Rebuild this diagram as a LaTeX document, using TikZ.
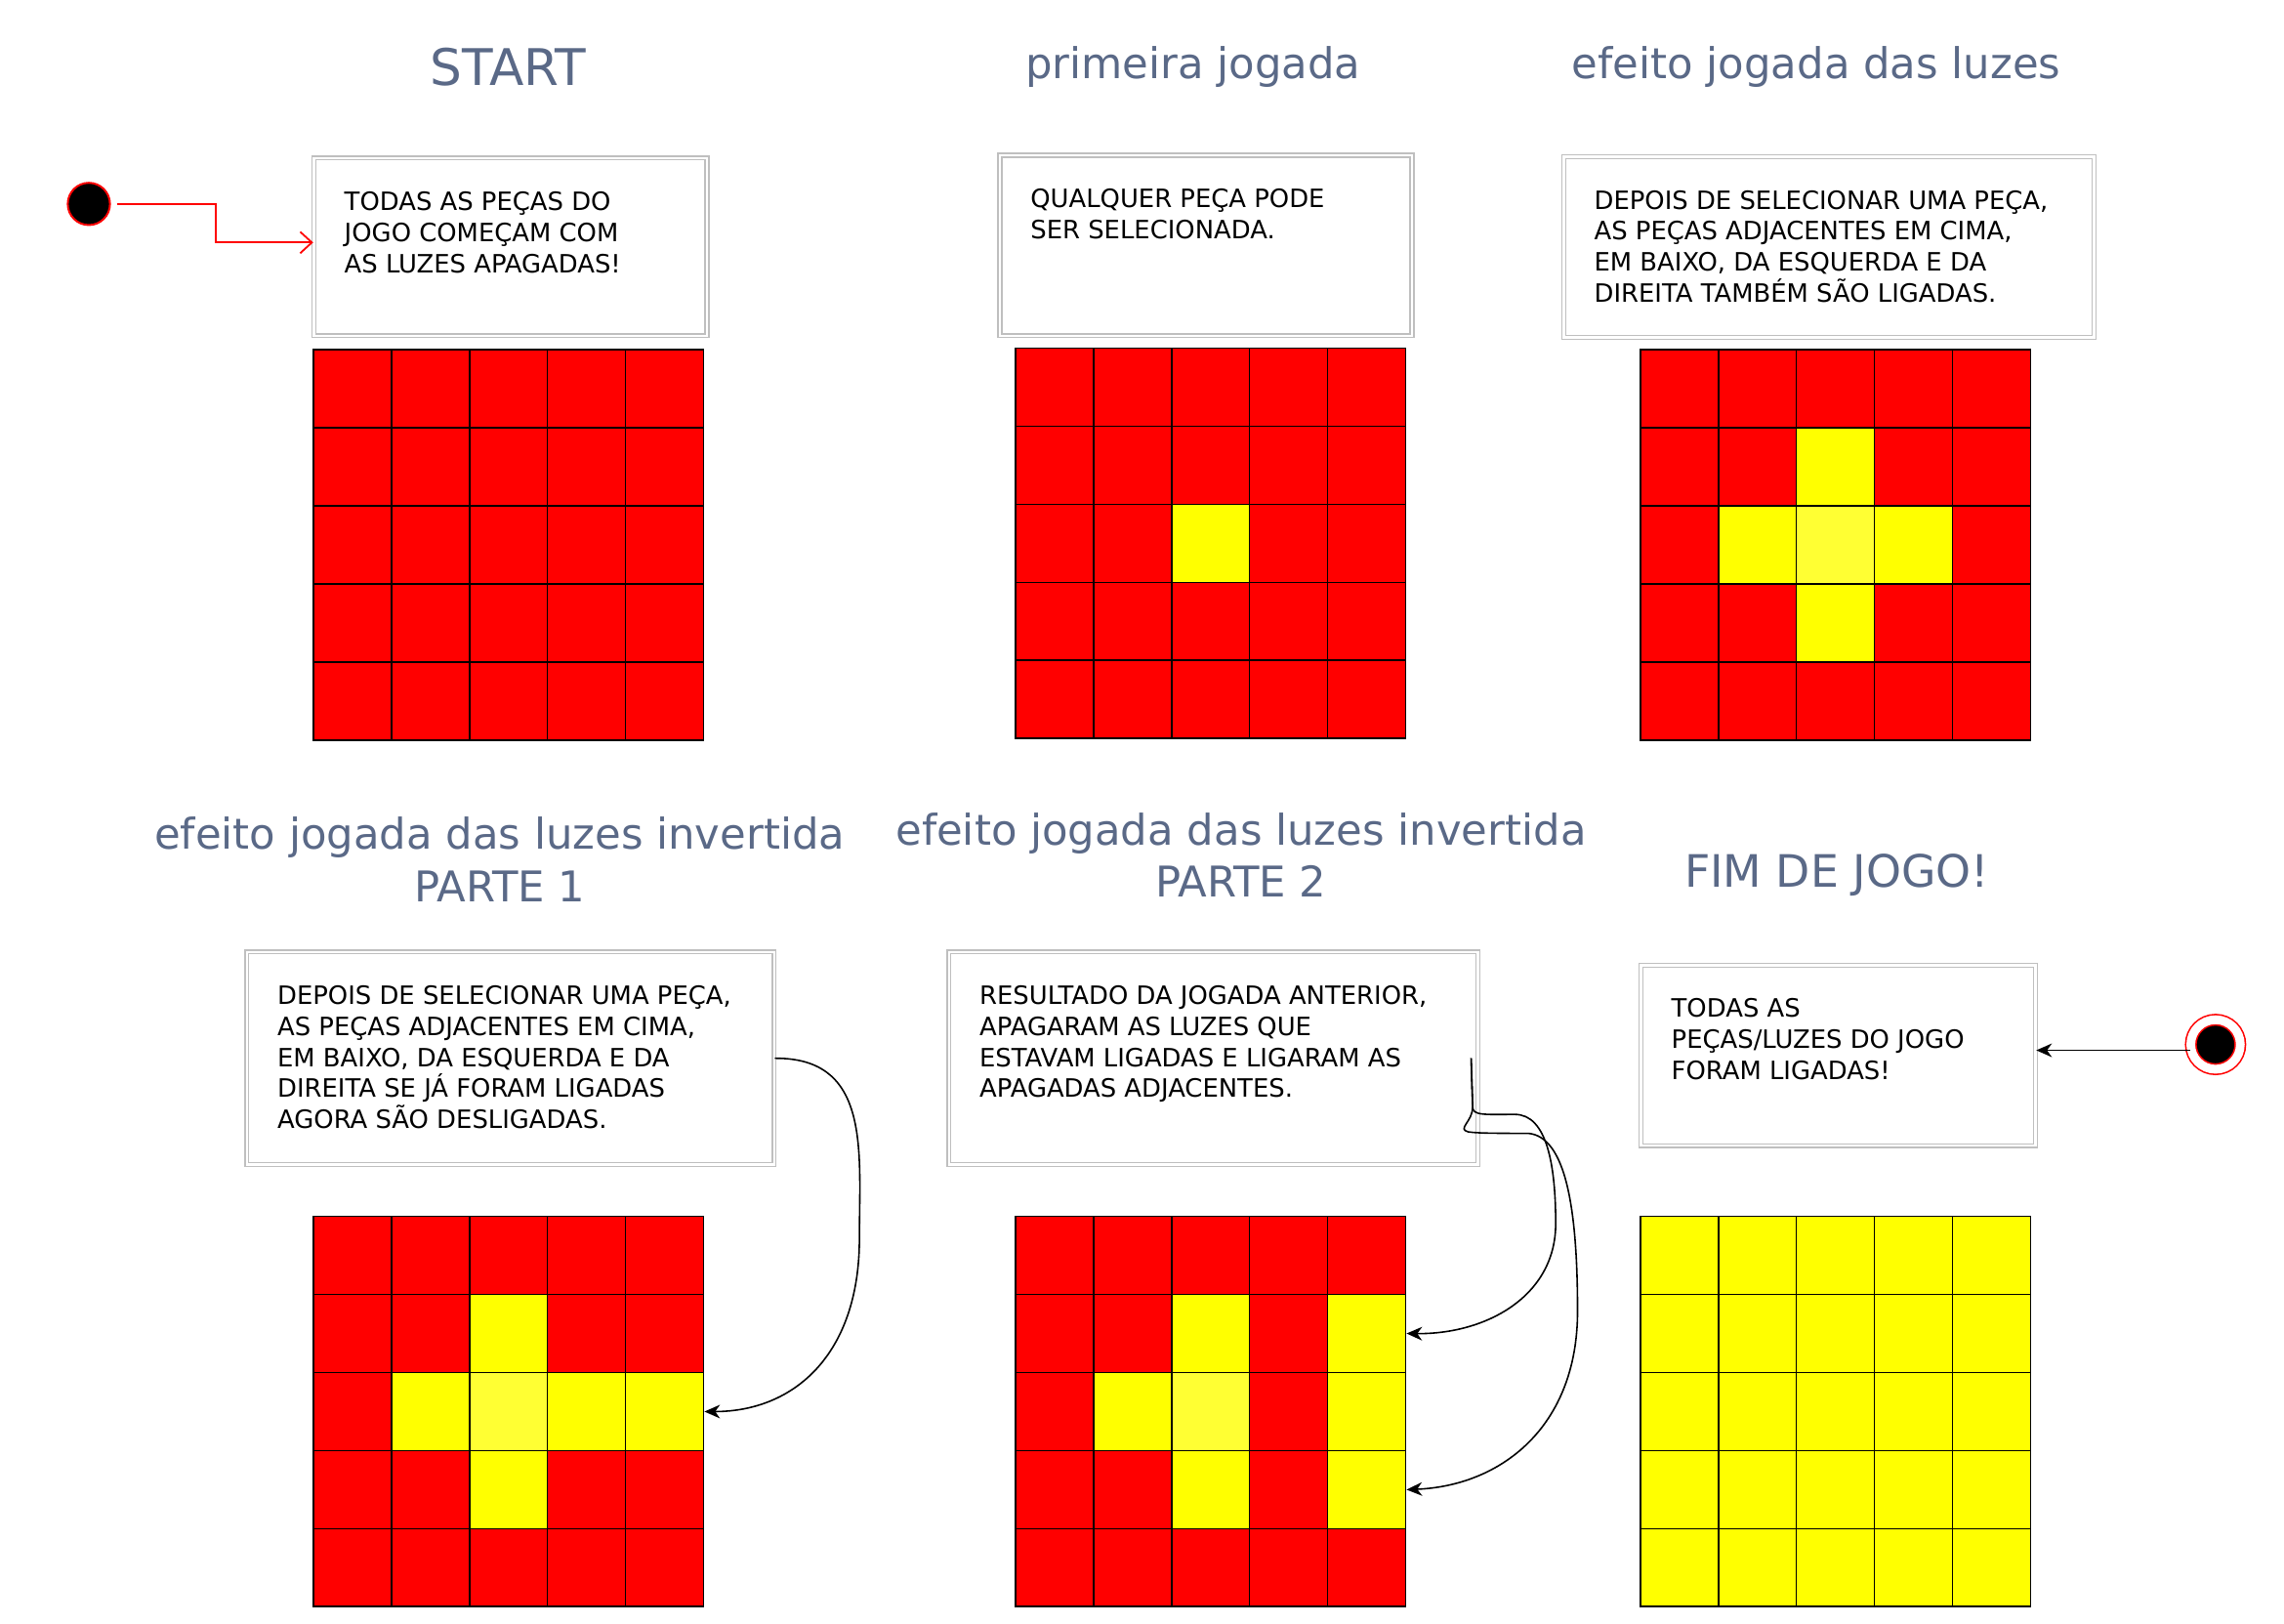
\documentclass[tikz,border=0pt]{standalone}
\usepackage{fontspec}
\setmainfont{DejaVu Sans}
\usetikzlibrary{arrows.meta}
\definecolor{cellR}{HTML}{FF0000}
\definecolor{cellY}{HTML}{FFFF00}
\definecolor{cellL}{HTML}{FFFF33}
\definecolor{titlec}{HTML}{5A6987}

\tikzset{
  cell/.style={rectangle, draw=black, line width=0.9pt, minimum size=40.2pt, inner sep=0pt},
  note/.style={rectangle, fill=white, draw=black!25, line width=0.7pt, double=white, double distance=1.3pt,
    inner sep=0pt, text=black, font=\fontsize{13}{16}\selectfont},
  gtitle/.style={text=titlec, font=\fontsize{21.8}{27}\selectfont, align=center, inner sep=0pt},
  startdot/.style={circle, fill=black, draw=red, line width=1pt, minimum size=21.75pt, inner sep=0pt},
  enddot/.style={circle, fill=black, draw=red, line width=0.8pt, double=white, double distance=4.5pt, minimum size=25.5pt, inner sep=0pt},
  redarrow/.style={draw=red, line width=0.9pt, -{Straight Barb[length=6pt,width=11pt]}},
  blackarrow/.style={draw=black, line width=0.8pt, -{Stealth[length=8pt,width=7pt,inset=2.5pt]}}
}

\newcommand\lightgrid[4]{%
  \foreach \rowlist [count=\rr] in {#4} {%
    \foreach \cl [count=\cc] in \rowlist {%
      \node[cell, fill=cell\cl] (#1-\rr-\cc) at ({#2+(\cc-0.5)*53.6},{#3+(\rr-0.5)*53.6}) {};
    }%
  }%
}

\newcommand\notebox[6]{%
  \pgfmathsetlengthmacro\nbw{#4*0.75pt}%
  \pgfmathsetlengthmacro\nbh{#5*0.75pt}%
  \node[note, anchor=north west] (#1) at (#2,#3) {\parbox[c][\nbh][t]{\nbw}{\raggedright\leftskip=15.75pt\rule{0pt}{27pt}#6}};
}

\begin{document}
\begin{tikzpicture}[x=0.75pt, y=-0.75pt]
\useasboundingbox (0,0) rectangle (1568,1114.2);

% titles
\node[gtitle, font=\fontsize{26}{27}\selectfont] (t1) at (349,46) {START};
\node[gtitle] (t2) at (819,46) {primeira jogada};
\node[gtitle] (t3) at (1247,46) {efeito jogada das luzes};
\node[gtitle] (t4) at (343,590) {efeito jogada das luzes invertida\\PARTE 1};
\node[gtitle] (t5) at (852,587) {efeito jogada das luzes invertida\\PARTE 2};
\node[gtitle, font=\fontsize{23}{27}\selectfont] (t6) at (1261,601) {FIM DE JOGO!};

% note boxes
\notebox{b1}{215}{108}{270}{122}{TODAS AS PEÇAS DO\\JOGO COMEÇAM COM\\AS LUZES APAGADAS!}
\notebox{b2}{686}{106}{283}{124}{QUALQUER PEÇA PODE\\SER SELECIONADA.}
\notebox{b3}{1073}{107}{364}{124}{DEPOIS DE SELECIONAR UMA PEÇA,\\AS PEÇAS ADJACENTES EM CIMA,\\EM BAIXO, DA ESQUERDA E DA\\DIREITA TAMBÉM SÃO LIGADAS.}
\notebox{b4}{169}{653}{362}{146}{DEPOIS DE SELECIONAR UMA PEÇA,\\AS PEÇAS ADJACENTES EM CIMA,\\EM BAIXO, DA ESQUERDA E DA\\DIREITA SE JÁ FORAM LIGADAS\\AGORA SÃO DESLIGADAS.}
\notebox{b5}{651}{653}{363}{146}{RESULTADO DA JOGADA ANTERIOR,\\APAGARAM AS LUZES QUE\\ESTAVAM LIGADAS E LIGARAM AS\\APAGADAS ADJACENTES.}
\notebox{b6}{1126}{662}{271}{124}{TODAS AS\\PEÇAS/LUZES DO JOGO\\FORAM LIGADAS!}

% grids
\lightgrid{g1}{215}{240}{{R,R,R,R,R},{R,R,R,R,R},{R,R,R,R,R},{R,R,R,R,R},{R,R,R,R,R}}
\lightgrid{g2}{697}{239}{{R,R,R,R,R},{R,R,R,R,R},{R,R,Y,R,R},{R,R,R,R,R},{R,R,R,R,R}}
\lightgrid{g3}{1126}{240}{{R,R,R,R,R},{R,R,Y,R,R},{R,Y,L,Y,R},{R,R,Y,R,R},{R,R,R,R,R}}
\lightgrid{g4}{215}{835}{{R,R,R,R,R},{R,R,Y,R,R},{R,Y,L,Y,Y},{R,R,Y,R,R},{R,R,R,R,R}}
\lightgrid{g5}{697}{835}{{R,R,R,R,R},{R,R,Y,R,Y},{R,Y,L,R,Y},{R,R,Y,R,Y},{R,R,R,R,R}}
\lightgrid{g6}{1126}{835}{{Y,Y,Y,Y,Y},{Y,Y,Y,Y,Y},{Y,Y,Y,Y,Y},{Y,Y,Y,Y,Y},{Y,Y,Y,Y,Y}}

% start and end markers
\node[startdot] (s) at (61,140) {};
\node[enddot] (e) at (1521,717) {};

% connectors
\draw[redarrow, shorten <=3pt] (s.east) -- (148,140) |- ([yshift=2.25pt]b1.west);
\draw[blackarrow] ([yshift=-3pt]e.west) -- ([yshift=-3pt]e.west -| b6.east);
\draw[blackarrow] (b4.east) .. controls (598,726) and (590,790) .. (590,850)
  .. controls (590,930) and (545,969) .. (g4-3-5.east);
\draw[blackarrow] ([xshift=-3.75pt]b5.east) -- (1011,760) .. controls (1011,766) and (1020,765) .. (1040,765)
  .. controls (1062,765) and (1068,800) .. (1068,840)
  .. controls (1068,890) and (1020,916) .. (g5-2-5.east);
\draw[blackarrow] ([xshift=-3.75pt]b5.east) -- (1011,760) .. controls (1011,770) and (1000,775) .. (1008,777)
  .. controls (1015,778) and (1030,778) .. (1049,778)
  .. controls (1075,780) and (1083,830) .. (1083,900)
  .. controls (1083,980) and (1030,1020) .. (g5-4-5.east);
\end{tikzpicture}
\end{document}
